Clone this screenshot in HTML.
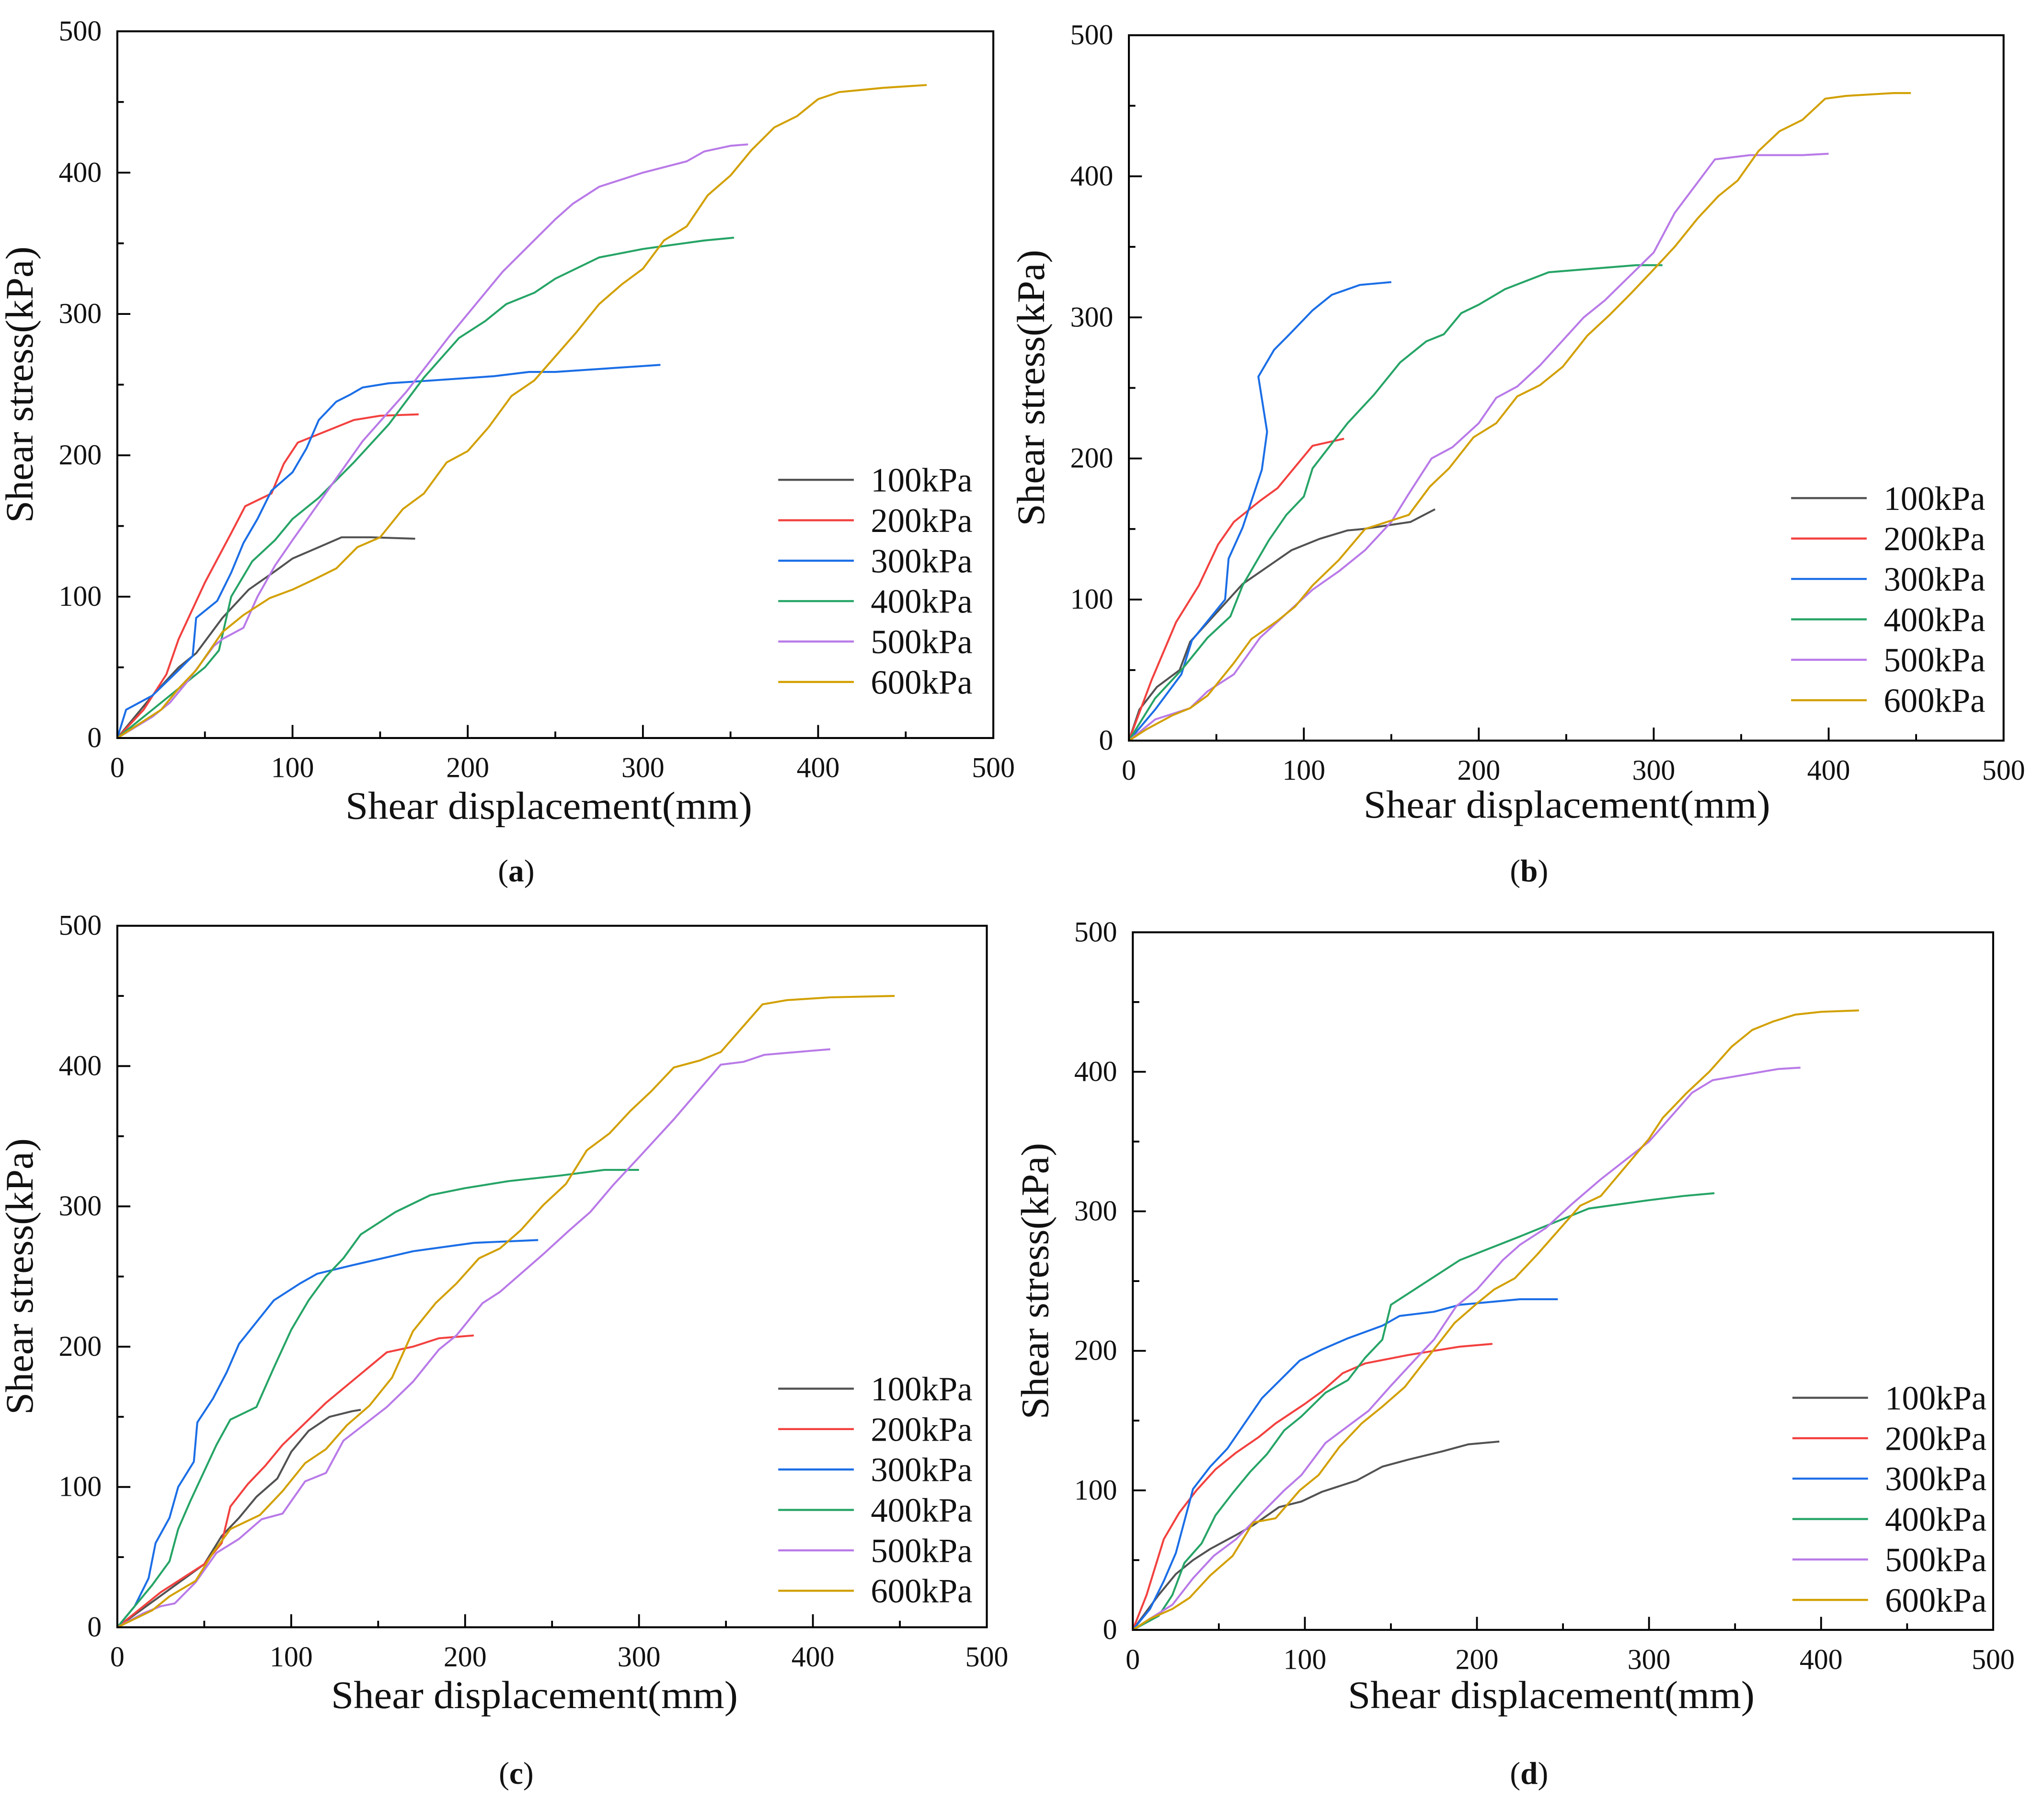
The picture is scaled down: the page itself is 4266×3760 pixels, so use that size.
<!DOCTYPE html>
<html><head><meta charset="utf-8"><style>
html,body{margin:0;padding:0;background:#fff;}
svg{display:block;}
text{font-family:"Liberation Serif",serif;fill:#111;}
</style></head>
<body>
<svg id="fig" width="4266" height="3760" viewBox="0 0 1568 1382" xmlns="http://www.w3.org/2000/svg"></svg>
<script>
const seriesNames = ["100kPa","200kPa","300kPa","400kPa","500kPa","600kPa"];
const tickValues = [0,100,200,300,400,500];

// panel (a)
const a100 = [[0,0],[20,30],[35,50],[45,60],[60,85],[75,105],[90,118],[100,127],[115,135],[128,142],[145,142],[170,141]];
const a200 = [[0,0],[15,20],[28,45],[35,70],[50,110],[65,145],[73,164],[88,173],[95,194],[103,209],[125,220],[135,225],[150,228],[172,229]];
const a300 = [[0,0],[5,20],[20,30],[35,48],[43,58],[45,85],[57,97],[65,117],[72,138],[80,155],[88,175],[100,188],[108,205],[115,225],[125,238],[133,243],[140,248],[155,251],[180,253],[215,256],[235,259],[250,259],[310,264]];
const a400 = [[0,0],[25,25],[50,50],[58,62],[65,100],[77,125],[90,140],[100,155],[115,170],[135,195],[155,222],[175,255],[195,283],[210,295],[222,307],[238,315],[250,325],[275,340],[300,346],[335,352],[352,354]];
const a500 = [[0,0],[20,15],[30,25],[40,40],[55,65],[60,70],[72,78],[80,100],[90,122],[100,140],[120,175],[140,210],[165,245],[190,285],[220,330],[250,367],[260,378],[275,390],[300,400],[325,408],[335,415],[350,419],[360,420]];
const a600 = [[0,0],[25,20],[35,35],[45,48],[60,75],[72,87],[87,99],[100,105],[112,112],[125,120],[137,135],[150,142],[163,162],[175,173],[188,195],[200,203],[212,220],[225,242],[238,253],[250,270],[262,287],[275,307],[288,321],[300,332],[312,352],[325,362],[337,384],[350,398],[362,416],[375,432],[388,440],[400,452],[412,457],[437,460],[462,462]];

// panel (b)
const b100 = [[0,0],[6,22],[16,38],[29,50],[35,70],[65,111],[93,135],[109,143],[125,149],[134,150],[161,155],[175,164]];
const b200 = [[0,0],[13,43],[27,84],[40,110],[51,139],[60,155],[75,170],[85,179],[105,209],[123,214]];
const b300 = [[0,0],[15,22],[30,47],[36,71],[55,100],[57,129],[65,151],[76,192],[79,219],[74,258],[83,277],[91,287],[105,305],[116,316],[132,323],[150,325]];
const b400 = [[0,0],[15,30],[30,50],[45,73],[58,88],[65,110],[80,142],[90,160],[100,173],[105,193],[125,225],[140,245],[155,268],[170,283],[180,288],[190,303],[200,309],[215,320],[240,332],[270,335],[290,337],[305,337]];
const b500 = [[0,0],[15,15],[35,23],[45,35],[60,47],[75,73],[90,90],[105,107],[120,120],[135,135],[150,155],[160,175],[173,200],[185,208],[200,225],[210,243],[222,251],[235,266],[260,300],[272,312],[300,346],[312,374],[335,412],[355,415],[385,415],[400,416]];
const b600 = [[0,0],[10,8],[25,18],[35,23],[45,32],[60,55],[70,72],[85,85],[95,95],[105,110],[120,128],[135,150],[155,158],[160,160],[172,180],[183,193],[197,215],[210,225],[222,244],[235,252],[248,265],[262,287],[275,302],[287,317],[300,334],[312,350],[325,370],[337,386],[348,397],[360,418],[372,432],[385,440],[398,455],[410,457],[437,459],[447,459]];

// panel (c)
const c100 = [[0,0],[50,45],[60,65],[70,78],[80,93],[92,106],[100,125],[110,140],[122,150],[135,154],[140,155]];
const c200 = [[0,0],[25,25],[50,45],[60,60],[65,86],[75,102],[85,115],[95,130],[120,160],[155,196],[170,200],[185,206],[205,208]];
const c300 = [[0,0],[10,15],[18,35],[22,60],[30,78],[35,100],[44,118],[46,146],[55,163],[63,182],[70,202],[90,233],[105,245],[115,252],[135,258],[170,268],[205,274],[242,276]];
const c400 = [[0,0],[20,30],[30,47],[35,70],[42,90],[57,130],[65,148],[80,157],[90,185],[100,212],[110,233],[120,250],[130,263],[140,280],[160,296],[180,308],[200,313],[225,318],[255,322],[280,326],[300,326]];
const c500 = [[0,0],[15,10],[25,15],[33,17],[45,32],[57,53],[70,63],[83,77],[95,81],[108,104],[120,110],[130,133],[155,157],[170,175],[185,198],[195,208],[210,231],[220,239],[245,266],[260,283],[272,296],[285,315],[300,335],[320,362],[347,401],[360,403],[372,408],[400,411],[410,412]];
const c600 = [[0,0],[20,12],[30,22],[45,33],[55,53],[65,70],[82,80],[95,97],[108,117],[120,127],[132,144],[145,158],[158,178],[170,211],[183,231],[195,245],[208,263],[220,270],[232,283],[245,301],[258,316],[270,340],[283,352],[295,368],[307,382],[320,399],[335,404],[347,410],[371,444],[385,447],[410,449],[447,450]];

// panel (d)
const d100 = [[0,0],[15,25],[25,40],[35,50],[45,58],[60,68],[70,75],[85,88],[98,92],[110,99],[130,107],[145,117],[160,122],[180,128],[195,133],[213,135]];
const d200 = [[0,0],[8,25],[18,65],[27,84],[37,100],[48,115],[60,127],[73,138],[83,148],[100,162],[110,171],[122,184],[135,191],[160,197],[175,200],[190,203],[209,205]];
const d300 = [[0,0],[10,15],[18,35],[25,55],[35,101],[45,117],[55,130],[75,166],[97,193],[110,201],[125,209],[145,218],[155,225],[175,228],[190,233],[225,237],[247,237]];
const d400 = [[0,0],[15,10],[23,25],[30,48],[40,62],[48,82],[58,98],[68,113],[78,126],[88,143],[98,153],[112,170],[125,179],[135,195],[145,208],[150,233],[190,265],[225,282],[265,302],[300,308],[320,311],[338,313]];
const d500 = [[0,0],[10,8],[23,18],[35,37],[47,53],[60,65],[68,75],[80,90],[88,100],[98,111],[112,134],[125,146],[137,157],[150,175],[165,195],[175,208],[188,232],[200,244],[215,265],[225,276],[240,288],[255,305],[272,323],[300,350],[325,385],[337,394],[375,402],[388,403]];
const d600 = [[0,0],[10,8],[23,15],[33,23],[45,39],[58,53],[70,77],[83,80],[97,100],[108,111],[120,131],[133,148],[145,160],[158,174],[175,201],[187,220],[200,234],[210,244],[222,252],[235,269],[260,304],[272,311],[300,352],[308,367],[322,385],[335,400],[348,418],[360,430],[372,436],[385,441],[400,443],[422,444]];

const colors = ["#525252","#f2413f","#1b6ee6","#26a466","#b97ae8","#d2a000"];
const NS = "http://www.w3.org/2000/svg";
const svg = document.getElementById("fig");
function mk(tag, attrs, parent){const e=document.createElementNS(NS,tag);for(const k in attrs)e.setAttribute(k,attrs[k]);(parent||svg).appendChild(e);return e;}

const panels = [
 {id:"a",L:90,R:762,T:24,B:566,xt:[421,628],lab:[396,676],leg:[597,368],data:[a100,a200,a300,a400,a500,a600]},
 {id:"b",L:866,R:1537,T:27,B:568,xt:[1202,627],lab:[1173,676],leg:[1374,382],data:[b100,b200,b300,b400,b500,b600]},
 {id:"c",L:90,R:757,T:710,B:1248,xt:[410,1310],lab:[396,1368],leg:[597,1065],data:[c100,c200,c300,c400,c500,c600]},
 {id:"d",L:869,R:1529,T:715,B:1250,xt:[1190,1310],lab:[1173,1368],leg:[1375,1072],data:[d100,d200,d300,d400,d500,d600]}
];

panels.forEach(p=>{
  const g = mk("g",{});
  
  
  const sx = v => p.L + (p.R-p.L)*v/500;
  const sy = v => p.B - (p.B-p.T)*v/500;
  // series
  p.data.forEach((pts,i)=>{
    const pl = mk("polyline",{points:pts.map(q=>sx(q[0]).toFixed(2)+","+sy(q[1]).toFixed(2)).join(" "),fill:"none",stroke:colors[i],"stroke-width":1.5,"stroke-linejoin":"round"},g);
    
    
  });
  // frame
  const fr = mk("rect",{x:p.L,y:p.T,width:p.R-p.L,height:p.B-p.T,fill:"none",stroke:"#000","stroke-width":1.5},g);
  
  
  // ticks
  for(let v=0; v<=500; v+=50){
    const major = v%100===0, len = major?10:5;
    if(v>0&&v<500){
      mk("line",{x1:sx(v),x2:sx(v),y1:p.B,y2:p.B-len,stroke:"#000","stroke-width":1.4},g);
      mk("line",{x1:p.L,x2:p.L+len,y1:sy(v),y2:sy(v),stroke:"#000","stroke-width":1.4},g);
    }
  }
  tickValues.forEach(v=>{
    const tx = mk("text",{x:sx(v),y:p.B+30,"text-anchor":"middle","font-size":22},g);
    tx.textContent = v;
    
    
    const ty = mk("text",{x:p.L-12,y:sy(v)+7,"text-anchor":"end","font-size":22},g);
    ty.textContent = v;
    
    
  });
  // titles
  const xt = mk("text",{x:p.xt[0],y:p.xt[1],"text-anchor":"middle","font-size":30,textLength:312,lengthAdjust:"spacingAndGlyphs"},g);
  xt.textContent = "Shear displacement(mm)";
  
  
  const ycx = p.L-65, ycy = (p.T+p.B)/2;
  const yt = mk("text",{x:ycx,y:ycy,"text-anchor":"middle","font-size":30,textLength:212,lengthAdjust:"spacingAndGlyphs",transform:"rotate(-90 "+ycx+" "+ycy+")"},g);
  yt.textContent = "Shear stress(kPa)";
  
  
  // panel label
  const lb = mk("text",{x:p.lab[0],y:p.lab[1],"text-anchor":"middle","font-size":24},g);
  lb.innerHTML = '(<tspan font-weight="bold">'+p.id+'</tspan>)';
  
  
  // legend
  seriesNames.forEach((n,i)=>{
    const y = p.leg[1] + i*31;
    const lg = mk("g",{},g);
    
    
    mk("line",{x1:p.leg[0],x2:p.leg[0]+58,y1:y,y2:y,stroke:colors[i],"stroke-width":1.6},lg);
    const t = mk("text",{x:p.leg[0]+71,y:y+9,"font-size":26},lg);
    t.textContent = n;
  });
});
</script>
</body></html>
